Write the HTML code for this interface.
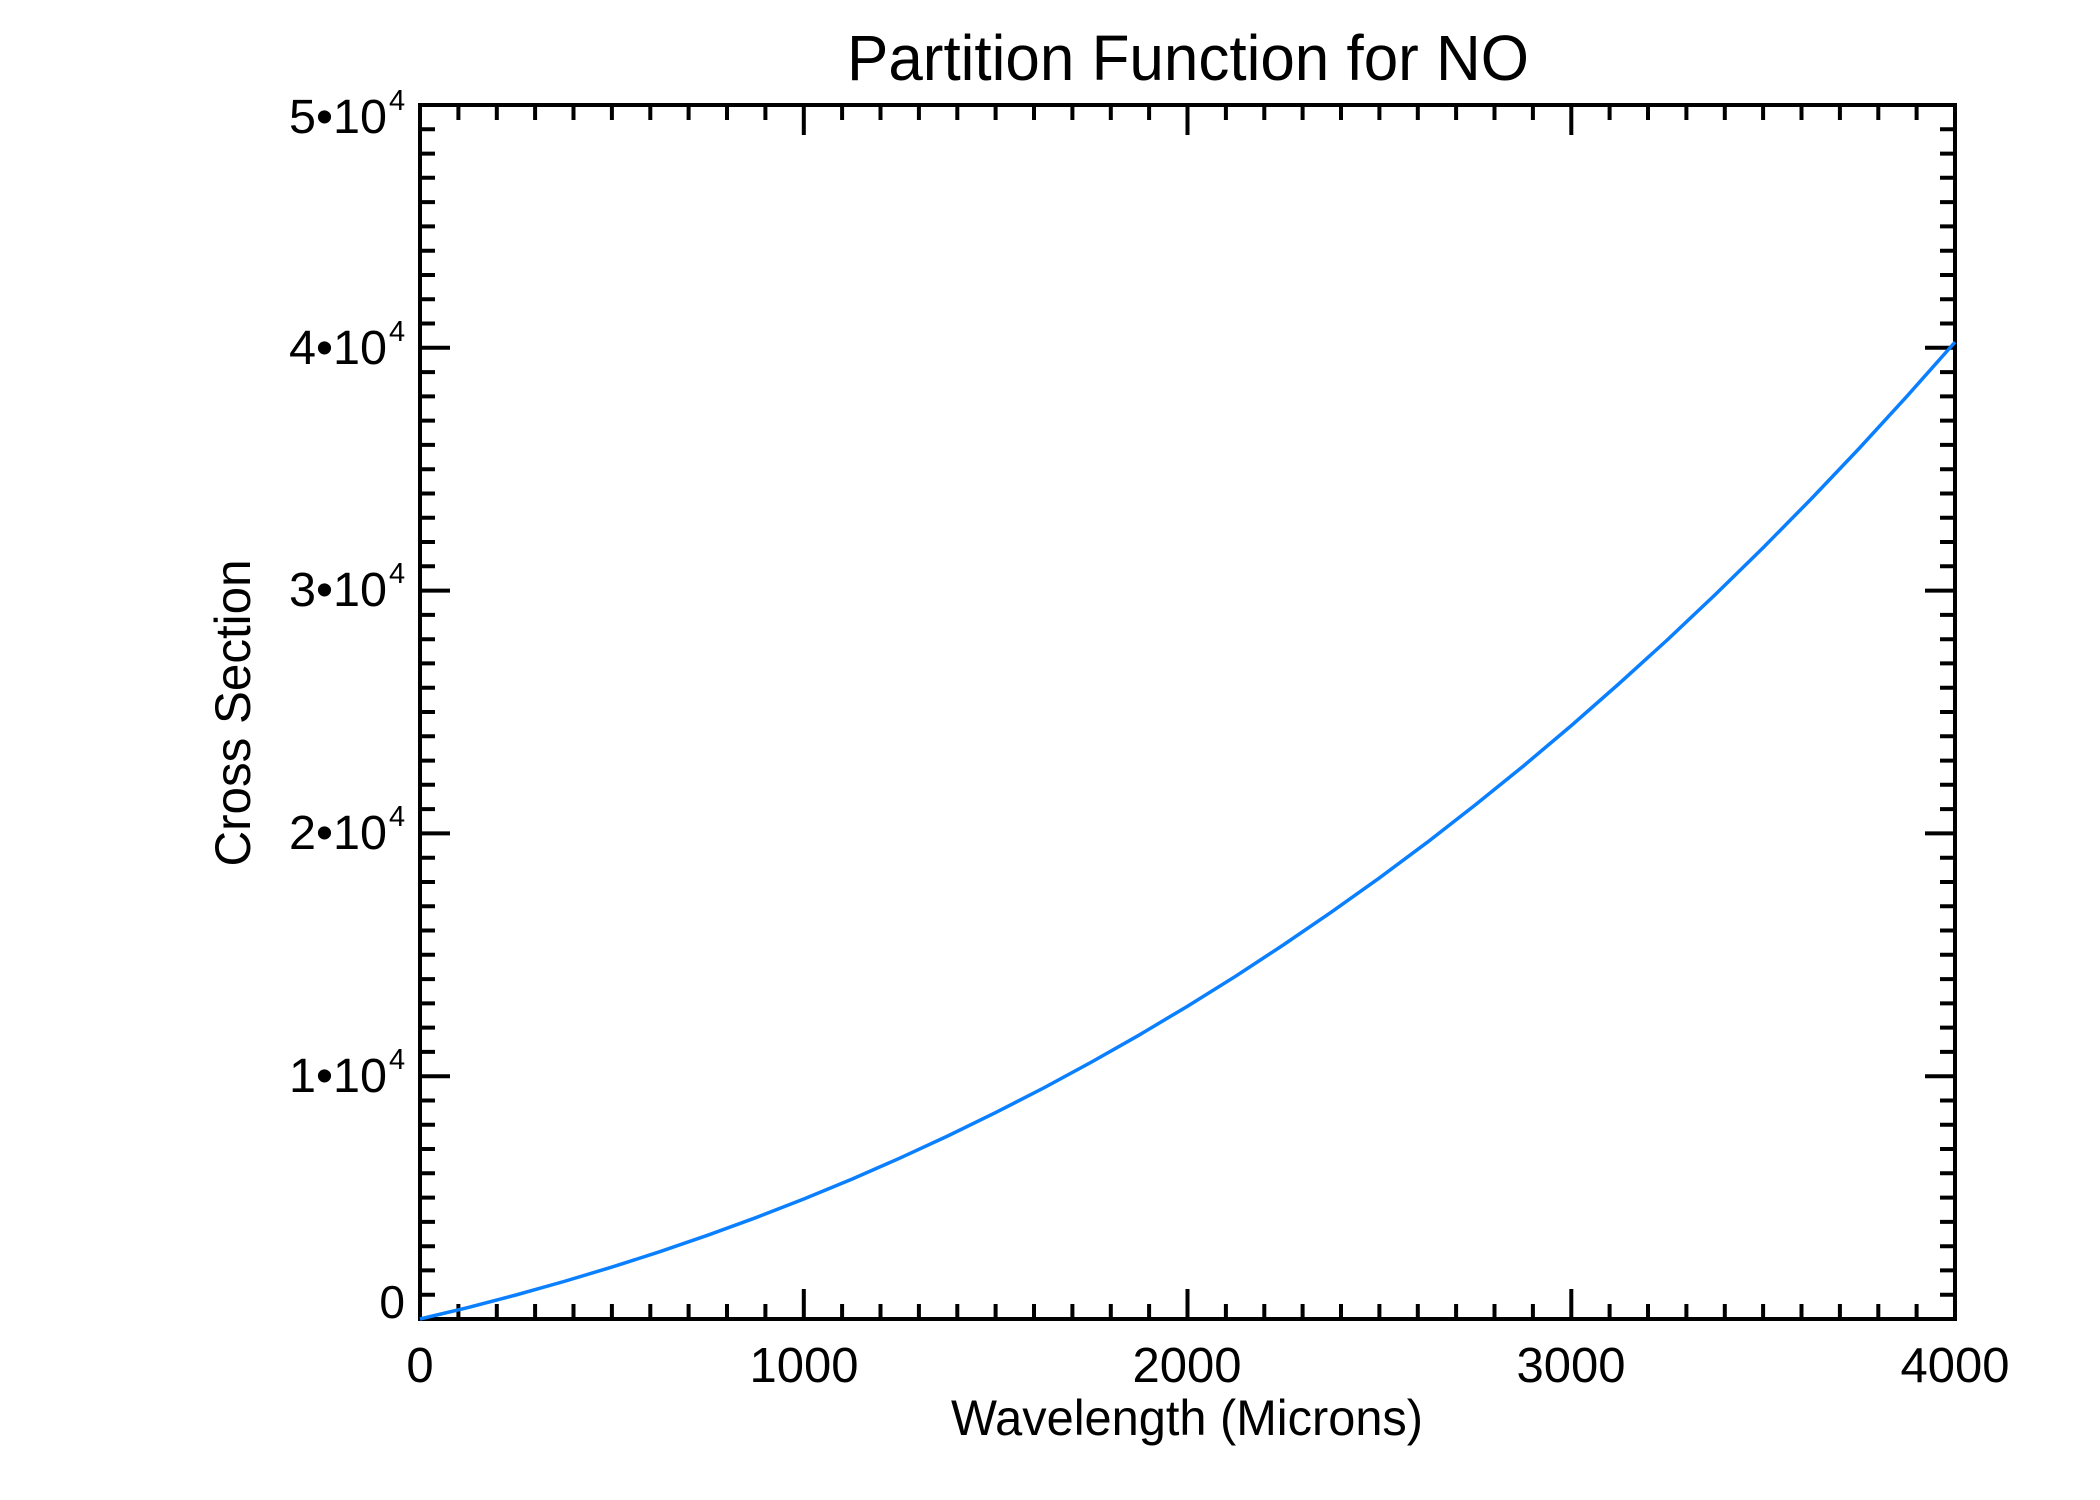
<!DOCTYPE html>
<html><head><meta charset="utf-8"><style>html,body{margin:0;padding:0;background:#fff}svg{display:block}</style></head>
<body>
<svg width="2100" height="1500" viewBox="0 0 2100 1500" xmlns="http://www.w3.org/2000/svg" font-family="Liberation Sans, Arial, sans-serif">
<rect width="2100" height="1500" fill="#fff"/>
<g stroke="#000" stroke-width="4" fill="none">
<rect x="420" y="105" width="1535" height="1214"/>
<path d="
M420,1319v-30 M458.4,1319v-15 M496.8,1319v-15 M535.1,1319v-15 M573.5,1319v-15 M611.9,1319v-15 M650.3,1319v-15 M688.6,1319v-15 M727,1319v-15 M765.4,1319v-15
M803.8,1319v-30 M842.1,1319v-15 M880.5,1319v-15 M918.9,1319v-15 M957.3,1319v-15 M995.6,1319v-15 M1034,1319v-15 M1072.4,1319v-15 M1110.8,1319v-15 M1149.1,1319v-15
M1187.5,1319v-30 M1225.9,1319v-15 M1264.3,1319v-15 M1302.6,1319v-15 M1341,1319v-15 M1379.4,1319v-15 M1417.8,1319v-15 M1456.1,1319v-15 M1494.5,1319v-15 M1532.9,1319v-15
M1571.3,1319v-30 M1609.6,1319v-15 M1648,1319v-15 M1686.4,1319v-15 M1724.8,1319v-15 M1763.1,1319v-15 M1801.5,1319v-15 M1839.9,1319v-15 M1878.3,1319v-15 M1916.6,1319v-15
M420,105v30 M458.4,105v15 M496.8,105v15 M535.1,105v15 M573.5,105v15 M611.9,105v15 M650.3,105v15 M688.6,105v15 M727,105v15 M765.4,105v15
M803.8,105v30 M842.1,105v15 M880.5,105v15 M918.9,105v15 M957.3,105v15 M995.6,105v15 M1034,105v15 M1072.4,105v15 M1110.8,105v15 M1149.1,105v15
M1187.5,105v30 M1225.9,105v15 M1264.3,105v15 M1302.6,105v15 M1341,105v15 M1379.4,105v15 M1417.8,105v15 M1456.1,105v15 M1494.5,105v15 M1532.9,105v15
M1571.3,105v30 M1609.6,105v15 M1648,105v15 M1686.4,105v15 M1724.8,105v15 M1763.1,105v15 M1801.5,105v15 M1839.9,105v15 M1878.3,105v15 M1916.6,105v15
"/>
<path d="
M420,1319h30 M420,1294.7h15 M420,1270.4h15 M420,1246.2h15 M420,1221.9h15 M420,1197.6h15 M420,1173.3h15 M420,1149h15 M420,1124.8h15 M420,1100.5h15
M420,1076.2h30 M420,1051.9h15 M420,1027.6h15 M420,1003.4h15 M420,979.1h15 M420,954.8h15 M420,930.5h15 M420,906.2h15 M420,882h15 M420,857.7h15
M420,833.4h30 M420,809.1h15 M420,784.8h15 M420,760.6h15 M420,736.3h15 M420,712h15 M420,687.7h15 M420,663.4h15 M420,639.2h15 M420,614.9h15
M420,590.6h30 M420,566.3h15 M420,542h15 M420,517.8h15 M420,493.5h15 M420,469.2h15 M420,444.9h15 M420,420.6h15 M420,396.4h15 M420,372.1h15
M420,347.8h30 M420,323.5h15 M420,299.2h15 M420,275h15 M420,250.7h15 M420,226.4h15 M420,202.1h15 M420,177.8h15 M420,153.6h15 M420,129.3h15
M1955,1319h-30 M1955,1294.7h-15 M1955,1270.4h-15 M1955,1246.2h-15 M1955,1221.9h-15 M1955,1197.6h-15 M1955,1173.3h-15 M1955,1149h-15 M1955,1124.8h-15 M1955,1100.5h-15
M1955,1076.2h-30 M1955,1051.9h-15 M1955,1027.6h-15 M1955,1003.4h-15 M1955,979.1h-15 M1955,954.8h-15 M1955,930.5h-15 M1955,906.2h-15 M1955,882h-15 M1955,857.7h-15
M1955,833.4h-30 M1955,809.1h-15 M1955,784.8h-15 M1955,760.6h-15 M1955,736.3h-15 M1955,712h-15 M1955,687.7h-15 M1955,663.4h-15 M1955,639.2h-15 M1955,614.9h-15
M1955,590.6h-30 M1955,566.3h-15 M1955,542h-15 M1955,517.8h-15 M1955,493.5h-15 M1955,469.2h-15 M1955,444.9h-15 M1955,420.6h-15 M1955,396.4h-15 M1955,372.1h-15
M1955,347.8h-30 M1955,323.5h-15 M1955,299.2h-15 M1955,275h-15 M1955,250.7h-15 M1955,226.4h-15 M1955,202.1h-15 M1955,177.8h-15 M1955,153.6h-15 M1955,129.3h-15
"/>
</g>
<polyline fill="none" stroke="#0a7fff" stroke-width="3.5" stroke-linejoin="round" points="420,1319 467.9,1307.6 515.9,1295 563.9,1281.5 611.9,1267.1 659.8,1251.7 707.8,1235.2 755.8,1217.7 803.8,1199 851.7,1179.2 899.7,1158.2 947.7,1136 995.6,1112.6 1043.6,1088 1091.6,1062 1139.6,1034.8 1187.5,1006.2 1235.5,976.3 1283.4,944.9 1331.4,912.1 1379.4,877.9 1427.4,842.2 1475.3,804.9 1523.3,766.1 1571.3,725.6 1619.2,683.5 1667.2,640 1715.2,594.6 1763.1,547.7 1811.1,499 1859.1,448.5 1907,396.2 1955,342.1"/>
<g fill="#000">
<text x="1188" y="80" font-size="64" text-anchor="middle" textLength="682" lengthAdjust="spacingAndGlyphs">Partition Function for NO</text>
<text x="1187" y="1435" font-size="50" text-anchor="middle" textLength="472" lengthAdjust="spacingAndGlyphs">Wavelength (Microns)</text>
<text transform="translate(250,713) rotate(-90)" font-size="50" text-anchor="middle" textLength="307" lengthAdjust="spacingAndGlyphs">Cross Section</text>
<g font-size="49" text-anchor="middle">
<text x="420" y="1382">0</text>
<text x="804" y="1382">1000</text>
<text x="1187" y="1382">2000</text>
<text x="1571" y="1382">3000</text>
<text x="1955" y="1382">4000</text>
</g>
<text x="405" y="1318" font-size="46" text-anchor="end">0</text>
<g font-size="48" text-anchor="end">
<text x="387" y="1092" textLength="98" lengthAdjust="spacingAndGlyphs">1•10</text><text x="387" y="849" textLength="98" lengthAdjust="spacingAndGlyphs">2•10</text><text x="387" y="606" textLength="98" lengthAdjust="spacingAndGlyphs">3•10</text><text x="387" y="364" textLength="98" lengthAdjust="spacingAndGlyphs">4•10</text><text x="387" y="133" textLength="98" lengthAdjust="spacingAndGlyphs">5•10</text>
</g>
<g font-size="29">
<text x="389" y="1069">4</text><text x="389" y="826">4</text><text x="389" y="583">4</text><text x="389" y="341">4</text><text x="389" y="110">4</text>
</g>
</g>
</svg>
</body></html>
